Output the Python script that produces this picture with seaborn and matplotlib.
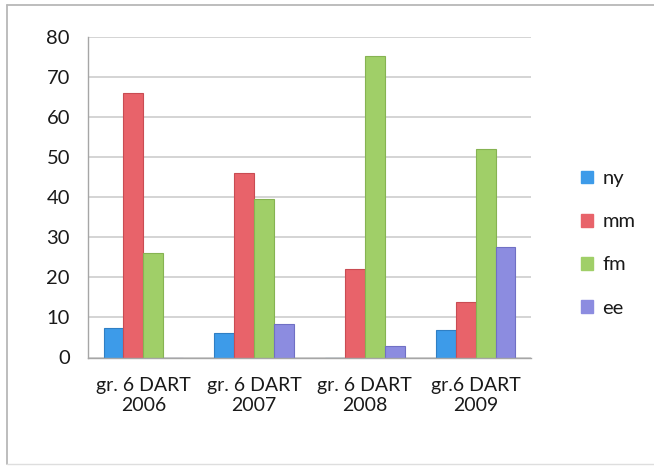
import matplotlib
matplotlib.use("Agg")
import matplotlib.pyplot as plt
import matplotlib.patches as mpatches
from matplotlib.lines import Line2D
import numpy as np
import pandas as pd
import seaborn as sns

categories = ["gr. 6 DART\n2006", "gr. 6 DART\n2007", "gr. 6 DART\n2008", "gr.6 DART\n2009"]
series = ["ny", "mm", "fm", "ee"]
ny = [7.4, 6.0, 0.0, 6.9]
mm = [66.0, 46.0, 22.2, 13.8]
fm = [26.2, 39.5, 75.3, 52.0]
ee = [0.0, 8.3, 2.8, 27.6]
colors = ["#3d9be9", "#e8636a", "#a0cf68", "#8c8ce0"]
edge_colors = ["#2f7fc4", "#c94c53", "#86b352", "#7070c4"]
yticks = [0, 10, 20, 30, 40, 50, 60, 70, 80]

df = pd.DataFrame({
    "group": np.repeat(categories, len(series)),
    "series": series * len(categories),
    "value": np.ravel(np.column_stack([ny, mm, fm, ee])),
})

sns.set_theme(style="white")
plt.rcParams["font.family"] = ["Lato", "DejaVu Sans"]

fig = plt.figure(figsize=(6.54, 4.71), dpi=100)
fig.patch.set_facecolor("white")

# outer frame of the chart area: top, left and bottom edges
W, H = 654, 471
frame = [((7, 1000), (H - 5, H - 5), "#b8b8b8", 1.3),
         ((7, 7), (H - 5, H - 464), "#b8b8b8", 1.3),
         ((7, 1000), (H - 464, H - 464), "#dedede", 1.0)]
for xs, ys, col, lw in frame:
    fig.add_artist(Line2D([x / W for x in xs], [y / H for y in ys],
                          transform=fig.transFigure, color=col, linewidth=lw))

ax = fig.add_axes([88 / W, 1 - 357.5 / H, (531 - 88) / W, (357.5 - 37) / H])
sns.barplot(data=df, x="group", y="value", hue="series", hue_order=series,
            palette=colors, saturation=1, width=0.72, gap=0, ax=ax, legend=False,
            linewidth=0.8)

for i, cont in enumerate(ax.containers):
    for bar in cont:
        bar.set_edgecolor(edge_colors[i])

ax.set_ylim(0, 80)
ax.set_xlim(-0.5, len(categories) - 0.5)
ax.set_yticks(yticks)
ax.set_yticklabels([str(t) for t in yticks], fontsize=14.5, color="#1a1a1a")
ax.set_xticks(range(len(categories)))
ax.set_xticklabels(categories, fontsize=14, color="#1a1a1a", linespacing=1.2)
ax.set_xticks(np.arange(-0.5, len(categories)), minor=True)
ax.tick_params(axis="x", which="major", length=0, pad=14)
ax.tick_params(axis="x", which="minor", length=5, color="#a6a6a6", width=1, direction="out")
ax.tick_params(axis="y", length=5, color="#a6a6a6", width=1, direction="out", pad=8)
ax.set_xlabel("")
ax.set_ylabel("")

ax.yaxis.grid(True, color="#d4d4d4", linewidth=1.4)
ax.set_axisbelow(True)
for side in ["top", "right"]:
    ax.spines[side].set_visible(False)
for side in ["left", "bottom"]:
    ax.spines[side].set_color("#a6a6a6")
    ax.spines[side].set_linewidth(1.0)

handles = [mpatches.Patch(facecolor=c, edgecolor=c, label=s) for s, c in zip(series, colors)]
fig.legend(handles=handles, loc="upper left", bbox_to_anchor=(563 / W, 1 - 152 / H),
           frameon=False, fontsize=14.5, handlelength=0.6, handleheight=0.6,
           handletextpad=0.45, labelspacing=1.3, labelcolor="#1a1a1a")

fig.savefig("out.png", dpi=100, facecolor="white")
